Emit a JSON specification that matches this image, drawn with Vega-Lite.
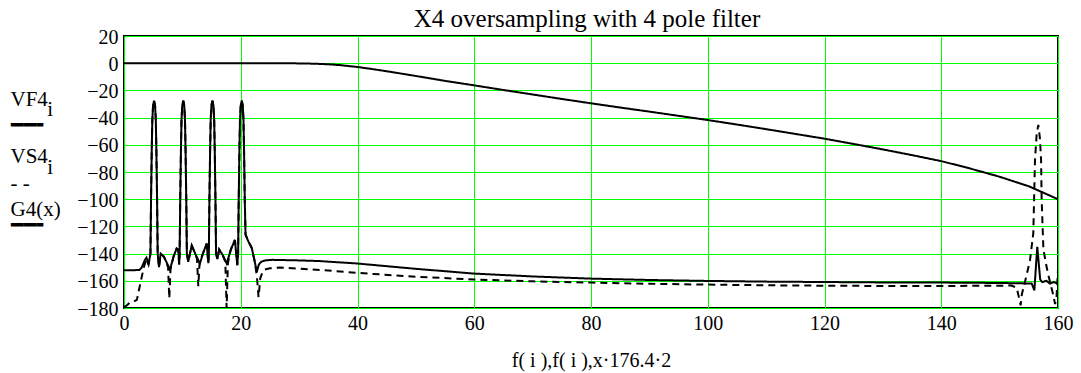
{
  "$schema": "https://vega.github.io/schema/vega-lite/v6.json",
  "width": 934,
  "height": 272,
  "autosize": {"type": "none"},
  "padding": {"left": 124, "top": 36, "right": 23, "bottom": 65},
  "background": "white",
  "title": {"text": "X4 oversampling with 4 pole filter", "font": "Liberation Serif", "fontSize": 25, "fontWeight": "normal", "color": "black", "anchor": "middle", "frame": "group", "offset": -5, "dx": -4},
  "config": {
    "font": "Liberation Serif",
    "view": {"stroke": "black", "strokeWidth": 2},
    "axis": {"grid": true, "gridColor": "#00ff00", "gridWidth": 1, "gridOpacity": 1, "ticks": false, "tickSize": 0, "domain": false, "labelFont": "Liberation Serif", "labelFontSize": 20, "labelColor": "black", "labelFlush": false, "labelOverlap": false, "titleFont": "Liberation Serif", "titleFontWeight": "normal", "titleColor": "black"}
  },
  "data": {"values": [
    {"s":"VF4","x":0,"y":-152.3},{"s":"VF4","x":1.5,"y":-152.3},{"s":"VF4","x":2.6,"y":-152},{"s":"VF4","x":3.0,"y":-150.5},{"s":"VF4","x":3.3,"y":-147.5},{"s":"VF4","x":3.6,"y":-144.5},{"s":"VF4","x":3.85,"y":-143},{"s":"VF4","x":4.2,"y":-148},
    {"s":"VF4","x":4.53,"y":-140},{"s":"VF4","x":4.63,"y":-101},{"s":"VF4","x":4.75,"y":-65},{"s":"VF4","x":4.85,"y":-42},{"s":"VF4","x":4.98,"y":-31},{"s":"VF4","x":5.15,"y":-27.5},{"s":"VF4","x":5.32,"y":-31},{"s":"VF4","x":5.45,"y":-42},{"s":"VF4","x":5.55,"y":-65},{"s":"VF4","x":5.67,"y":-101},{"s":"VF4","x":5.77,"y":-140},
    {"s":"VF4","x":6.0,"y":-150},{"s":"VF4","x":6.28,"y":-140},{"s":"VF4","x":6.85,"y":-142.4},{"s":"VF4","x":7.88,"y":-151.8},{"s":"VF4","x":8.5,"y":-142},{"s":"VF4","x":9.02,"y":-136.3},{"s":"VF4","x":9.3,"y":-137},{"s":"VF4","x":9.45,"y":-148},
    {"s":"VF4","x":9.53,"y":-140},{"s":"VF4","x":9.63,"y":-101},{"s":"VF4","x":9.75,"y":-65},{"s":"VF4","x":9.85,"y":-42},{"s":"VF4","x":9.98,"y":-31},{"s":"VF4","x":10.15,"y":-27.5},{"s":"VF4","x":10.32,"y":-31},{"s":"VF4","x":10.45,"y":-42},{"s":"VF4","x":10.55,"y":-65},{"s":"VF4","x":10.67,"y":-101},{"s":"VF4","x":10.77,"y":-140},
    {"s":"VF4","x":11.0,"y":-146},{"s":"VF4","x":11.6,"y":-134},{"s":"VF4","x":12.2,"y":-140},{"s":"VF4","x":13.0,"y":-147.3},{"s":"VF4","x":13.6,"y":-139},{"s":"VF4","x":14.16,"y":-132.6},{"s":"VF4","x":14.45,"y":-147},
    {"s":"VF4","x":14.53,"y":-140},{"s":"VF4","x":14.63,"y":-101},{"s":"VF4","x":14.75,"y":-65},{"s":"VF4","x":14.85,"y":-42},{"s":"VF4","x":14.98,"y":-31},{"s":"VF4","x":15.15,"y":-27.5},{"s":"VF4","x":15.32,"y":-31},{"s":"VF4","x":15.45,"y":-42},{"s":"VF4","x":15.55,"y":-65},{"s":"VF4","x":15.67,"y":-101},{"s":"VF4","x":15.77,"y":-140},
    {"s":"VF4","x":16.0,"y":-144},{"s":"VF4","x":16.3,"y":-137},{"s":"VF4","x":16.9,"y":-141},{"s":"VF4","x":17.6,"y":-147.3},{"s":"VF4","x":18.3,"y":-137},{"s":"VF4","x":19.0,"y":-130},{"s":"VF4","x":19.4,"y":-148.5},
    {"s":"VF4","x":19.55,"y":-140},{"s":"VF4","x":19.65,"y":-101},{"s":"VF4","x":19.77,"y":-65},{"s":"VF4","x":19.87,"y":-42},{"s":"VF4","x":20.0,"y":-31},{"s":"VF4","x":20.17,"y":-27.5},{"s":"VF4","x":20.34,"y":-31},{"s":"VF4","x":20.47,"y":-42},{"s":"VF4","x":20.57,"y":-65},{"s":"VF4","x":20.69,"y":-101},{"s":"VF4","x":20.82,"y":-126},
    {"s":"VF4","x":21.3,"y":-131},{"s":"VF4","x":21.9,"y":-136},{"s":"VF4","x":22.4,"y":-146},{"s":"VF4","x":22.75,"y":-153.5},{"s":"VF4","x":23.1,"y":-148},{"s":"VF4","x":23.5,"y":-146},{"s":"VF4","x":24.2,"y":-145},{"s":"VF4","x":25.4,"y":-144.6},{"s":"VF4","x":30,"y":-145},{"s":"VF4","x":33.5,"y":-145.5},{"s":"VF4","x":40,"y":-147.3},{"s":"VF4","x":50,"y":-151.2},{"s":"VF4","x":60,"y":-154.7},{"s":"VF4","x":70,"y":-156.8},{"s":"VF4","x":80,"y":-158.4},{"s":"VF4","x":90,"y":-159.4},{"s":"VF4","x":100,"y":-160.1},{"s":"VF4","x":110,"y":-160.6},{"s":"VF4","x":120,"y":-160.9},{"s":"VF4","x":130,"y":-161.2},{"s":"VF4","x":140,"y":-161.3},{"s":"VF4","x":150,"y":-161.6},{"s":"VF4","x":155.5,"y":-162},{"s":"VF4","x":155.95,"y":-167},{"s":"VF4","x":156.45,"y":-135},{"s":"VF4","x":156.95,"y":-159},{"s":"VF4","x":157.3,"y":-161},{"s":"VF4","x":158,"y":-160},{"s":"VF4","x":158.6,"y":-162},{"s":"VF4","x":159.3,"y":-161},{"s":"VF4","x":160,"y":-162},

    {"s":"VS4","x":0,"y":-179.5},{"s":"VS4","x":0.5,"y":-178},{"s":"VS4","x":1.0,"y":-176},{"s":"VS4","x":1.6,"y":-175.5},{"s":"VS4","x":2.2,"y":-174},{"s":"VS4","x":2.6,"y":-166},{"s":"VS4","x":3.0,"y":-158},{"s":"VS4","x":3.4,"y":-150},{"s":"VS4","x":3.85,"y":-144},{"s":"VS4","x":4.2,"y":-148},
    {"s":"VS4","x":4.53,"y":-140},{"s":"VS4","x":4.63,"y":-101},{"s":"VS4","x":4.75,"y":-65},{"s":"VS4","x":4.85,"y":-42},{"s":"VS4","x":4.98,"y":-31},{"s":"VS4","x":5.15,"y":-27.5},{"s":"VS4","x":5.32,"y":-31},{"s":"VS4","x":5.45,"y":-42},{"s":"VS4","x":5.55,"y":-65},{"s":"VS4","x":5.67,"y":-101},{"s":"VS4","x":5.77,"y":-140},
    {"s":"VS4","x":6.0,"y":-150},{"s":"VS4","x":6.28,"y":-140},{"s":"VS4","x":6.85,"y":-142.4},{"s":"VS4","x":7.55,"y":-150},{"s":"VS4","x":7.76,"y":-173},{"s":"VS4","x":7.97,"y":-151.5},{"s":"VS4","x":8.5,"y":-142},{"s":"VS4","x":9.02,"y":-136.3},{"s":"VS4","x":9.3,"y":-137},{"s":"VS4","x":9.45,"y":-148},
    {"s":"VS4","x":9.53,"y":-140},{"s":"VS4","x":9.63,"y":-101},{"s":"VS4","x":9.75,"y":-65},{"s":"VS4","x":9.85,"y":-42},{"s":"VS4","x":9.98,"y":-31},{"s":"VS4","x":10.15,"y":-27.5},{"s":"VS4","x":10.32,"y":-31},{"s":"VS4","x":10.45,"y":-42},{"s":"VS4","x":10.55,"y":-65},{"s":"VS4","x":10.67,"y":-101},{"s":"VS4","x":10.77,"y":-140},
    {"s":"VS4","x":11.0,"y":-146},{"s":"VS4","x":11.6,"y":-134},{"s":"VS4","x":12.2,"y":-140},{"s":"VS4","x":12.5,"y":-144},{"s":"VS4","x":12.73,"y":-164},{"s":"VS4","x":12.95,"y":-146.5},{"s":"VS4","x":13.6,"y":-139},{"s":"VS4","x":14.16,"y":-132.6},{"s":"VS4","x":14.45,"y":-147},
    {"s":"VS4","x":14.53,"y":-140},{"s":"VS4","x":14.63,"y":-101},{"s":"VS4","x":14.75,"y":-65},{"s":"VS4","x":14.85,"y":-42},{"s":"VS4","x":14.98,"y":-31},{"s":"VS4","x":15.15,"y":-27.5},{"s":"VS4","x":15.32,"y":-31},{"s":"VS4","x":15.45,"y":-42},{"s":"VS4","x":15.55,"y":-65},{"s":"VS4","x":15.67,"y":-101},{"s":"VS4","x":15.77,"y":-140},
    {"s":"VS4","x":16.0,"y":-144},{"s":"VS4","x":16.3,"y":-137},{"s":"VS4","x":16.9,"y":-141},{"s":"VS4","x":17.35,"y":-146},{"s":"VS4","x":17.58,"y":-180},{"s":"VS4","x":17.8,"y":-147},{"s":"VS4","x":18.3,"y":-137},{"s":"VS4","x":19.0,"y":-130},{"s":"VS4","x":19.4,"y":-148.5},
    {"s":"VS4","x":19.55,"y":-140},{"s":"VS4","x":19.65,"y":-101},{"s":"VS4","x":19.77,"y":-65},{"s":"VS4","x":19.87,"y":-42},{"s":"VS4","x":20.0,"y":-31},{"s":"VS4","x":20.17,"y":-27.5},{"s":"VS4","x":20.34,"y":-31},{"s":"VS4","x":20.47,"y":-42},{"s":"VS4","x":20.57,"y":-65},{"s":"VS4","x":20.69,"y":-101},{"s":"VS4","x":20.82,"y":-126},
    {"s":"VS4","x":21.3,"y":-131},{"s":"VS4","x":21.9,"y":-136},{"s":"VS4","x":22.4,"y":-146},{"s":"VS4","x":22.75,"y":-156},{"s":"VS4","x":23.05,"y":-172},{"s":"VS4","x":23.35,"y":-158},{"s":"VS4","x":23.8,"y":-153},{"s":"VS4","x":24.1,"y":-151.8},{"s":"VS4","x":25,"y":-150.8},{"s":"VS4","x":26.7,"y":-150.3},{"s":"VS4","x":30,"y":-151},{"s":"VS4","x":35,"y":-152.5},{"s":"VS4","x":40,"y":-154.2},{"s":"VS4","x":50,"y":-157},{"s":"VS4","x":60,"y":-159.1},{"s":"VS4","x":70,"y":-160.4},{"s":"VS4","x":80,"y":-161.3},{"s":"VS4","x":90,"y":-162.2},{"s":"VS4","x":100,"y":-162.8},{"s":"VS4","x":110,"y":-163.3},{"s":"VS4","x":120,"y":-163.6},{"s":"VS4","x":130,"y":-163.8},{"s":"VS4","x":140,"y":-163.8},{"s":"VS4","x":150,"y":-163.6},{"s":"VS4","x":152,"y":-163.5},{"s":"VS4","x":152.9,"y":-165},{"s":"VS4","x":153.3,"y":-172},{"s":"VS4","x":153.6,"y":-178},{"s":"VS4","x":153.8,"y":-170},{"s":"VS4","x":154.5,"y":-158},{"s":"VS4","x":155.2,"y":-145},{"s":"VS4","x":155.77,"y":-125},{"s":"VS4","x":156.06,"y":-71},{"s":"VS4","x":156.35,"y":-52},{"s":"VS4","x":156.63,"y":-45.4},{"s":"VS4","x":156.9,"y":-55},{"s":"VS4","x":157.1,"y":-71},{"s":"VS4","x":157.2,"y":-100},{"s":"VS4","x":157.5,"y":-137},{"s":"VS4","x":158.06,"y":-150},{"s":"VS4","x":158.3,"y":-155},{"s":"VS4","x":159.1,"y":-169},{"s":"VS4","x":159.5,"y":-177},{"s":"VS4","x":159.75,"y":-172},{"s":"VS4","x":160,"y":-152},

    {"s":"G4","x":0,"y":0},{"s":"G4","x":10,"y":0},{"s":"G4","x":20,"y":0},{"s":"G4","x":28,"y":-0.05},{"s":"G4","x":31,"y":-0.2},{"s":"G4","x":33,"y":-0.45},{"s":"G4","x":35,"y":-0.8},{"s":"G4","x":37,"y":-1.4},{"s":"G4","x":40,"y":-2.8},{"s":"G4","x":43,"y":-4.6},{"s":"G4","x":46,"y":-6.6},{"s":"G4","x":50,"y":-9.4},{"s":"G4","x":55,"y":-13},{"s":"G4","x":60,"y":-16.3},{"s":"G4","x":65,"y":-19.7},{"s":"G4","x":70,"y":-23},{"s":"G4","x":75,"y":-26.3},{"s":"G4","x":80,"y":-29.5},{"s":"G4","x":85,"y":-32.6},{"s":"G4","x":90,"y":-35.6},{"s":"G4","x":95,"y":-38.7},{"s":"G4","x":100,"y":-41.8},{"s":"G4","x":105,"y":-45.1},{"s":"G4","x":110,"y":-48.5},{"s":"G4","x":115,"y":-52},{"s":"G4","x":120,"y":-55.5},{"s":"G4","x":125,"y":-59.4},{"s":"G4","x":130,"y":-63.4},{"s":"G4","x":135,"y":-67.6},{"s":"G4","x":140,"y":-72},{"s":"G4","x":145,"y":-77.5},{"s":"G4","x":150,"y":-83.5},{"s":"G4","x":155,"y":-90.5},{"s":"G4","x":160,"y":-100}
  ]},
  "mark": {"type": "line", "color": "black", "strokeWidth": 2, "clip": true, "interpolate": "linear"},
  "encoding": {
    "x": {"field": "x", "type": "quantitative", "scale": {"domain": [0, 160], "nice": false, "zero": false},
      "axis": {"values": [0, 20, 40, 60, 80, 100, 120, 140, 160], "labelFont": "Liberation Serif", "labelPadding": 5, "title": "f( i ),f( i ),x·176.4·2", "titleFont": "Liberation Serif", "titleFontSize": 20, "titleY": 58, "titleBaseline": "alphabetic"}},
    "y": {"field": "y", "type": "quantitative", "scale": {"domain": [-180, 20], "nice": false, "zero": false},
      "axis": {"values": [-180, -160, -140, -120, -100, -80, -60, -40, -20, 0, 20], "labelFont": "Liberation Serif", "labelPadding": 6, "labelBaseline": "middle", "labelOffset": 1,
        "title": ["VF4", "\u200b", "\u200b\u00a0\u00a0\u00a0\u00a0\u00a0\u00a0\u00a0i", "\u200b", "\u200b", "━━╸", "\u200b", "\u200b", "\u200b", "\u200b", "\u200b", "VS4", "\u200b", "\u200b\u00a0\u00a0\u00a0\u00a0\u00a0\u00a0\u00a0i", "\u200b", "\u200b", "- -", "\u200b", "\u200b", "\u200b", "\u200b", "G4(x)", "\u200b", "\u200b", "━━╸"],
        "titleFont": "Liberation Serif", "titleFontSize": 21, "titleLineHeight": 5.25, "titleAngle": 0, "titleAlign": "left", "titleBaseline": "alphabetic", "titleX": -114, "titleY": 69}},
    "detail": {"field": "s"},
    "strokeDash": {"field": "s", "type": "nominal", "scale": {"domain": ["VF4", "VS4", "G4"], "range": [[1, 0], [7, 5], [1, 0]]}, "legend": null}
  }
}
